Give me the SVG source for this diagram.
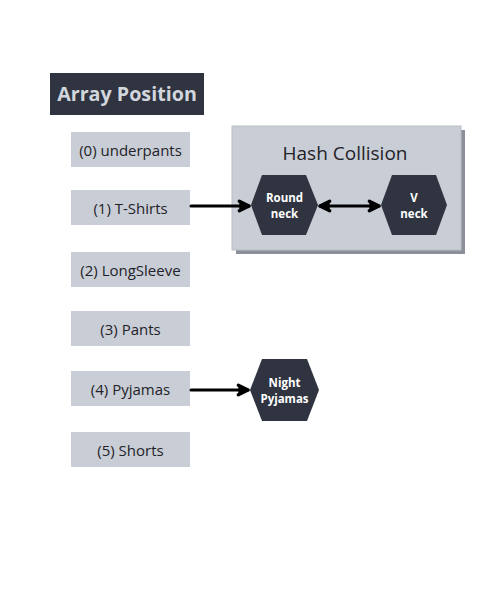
<svg xmlns="http://www.w3.org/2000/svg" width="500" height="600" viewBox="0 0 500 600">
<defs>
<style>
.slot{fill:#c9ced6}
.slotText{font-family:"Open Sans","Liberation Sans",sans-serif;font-size:15px;fill:#1f2228;text-anchor:middle}
.hex{fill:#2f3440}
.hexText{font-family:"Open Sans","Liberation Sans",sans-serif;font-size:11.5px;font-weight:bold;fill:#ffffff;text-anchor:middle}
.conn{stroke:#000;stroke-width:3;fill:none;stroke-linecap:round}
</style>
<marker id="ah" viewBox="0 0 10 10" refX="8.5" refY="5" markerWidth="4.6" markerHeight="4.6" orient="auto-start-reverse" markerUnits="strokeWidth">
<path d="M1.5,1.5 L8.5,5 L1.5,8.5" fill="#000" stroke="#000" stroke-width="2.4" stroke-linejoin="round" stroke-linecap="round"/>
</marker>
</defs>
<rect width="500" height="600" fill="#ffffff"/>
<g id="title">
<rect x="50" y="73" width="154" height="42" fill="#2f3440"/>
<text x="127" y="101" font-family="'Open Sans','Liberation Sans',sans-serif" font-size="19.7" font-weight="bold" fill="#d2d6dd" text-anchor="middle">Array Position</text>
</g>
<g id="slot0"><rect class="slot" x="71" y="132" width="119" height="35"/><text class="slotText" x="130.5" y="155.5">(0) underpants</text></g>
<g id="slot1"><rect class="slot" x="71" y="190" width="119" height="35"/><text class="slotText" x="130.5" y="213.5">(1) T-Shirts</text></g>
<g id="slot2"><rect class="slot" x="71" y="252" width="119" height="35"/><text class="slotText" x="130.5" y="275.5">(2) LongSleeve</text></g>
<g id="slot3"><rect class="slot" x="71" y="311" width="119" height="35"/><text class="slotText" x="130.5" y="334.5">(3) Pants</text></g>
<g id="slot4"><rect class="slot" x="71" y="371" width="119" height="35"/><text class="slotText" x="130.5" y="394.5">(4) Pyjamas</text></g>
<g id="slot5"><rect class="slot" x="71" y="432" width="119" height="35"/><text class="slotText" x="130.5" y="455.5">(5) Shorts</text></g>
<g id="hashCollision">
<rect x="236" y="130" width="229" height="124" fill="#8c9199"/>
<rect x="232" y="126" width="229" height="124" fill="#c9ced6" stroke="#b9bec6" stroke-width="1"/>
<text x="345" y="160" font-family="'Open Sans','Liberation Sans',sans-serif" font-size="19" fill="#1f2228" text-anchor="middle">Hash Collision</text>
</g>
<g id="roundNeck">
<polygon class="hex" points="251,205 262,175 306,175 318,205 306,235 262,235"/>
<text class="hexText" x="284.5" y="202">Round</text>
<text class="hexText" x="284.5" y="218">neck</text>
</g>
<g id="vNeck">
<polygon class="hex" points="381,205 392,175 436,175 447,205 436,235 392,235"/>
<text class="hexText" x="414" y="202">V</text>
<text class="hexText" x="414" y="218">neck</text>
</g>
<g id="nightPyjamas">
<polygon class="hex" points="250,390 262,359 307,359 319,390 307,421 262,421"/>
<text class="hexText" x="284.5" y="387">Night</text>
<text class="hexText" x="284.5" y="403">Pyjamas</text>
</g>
<g id="connectors">
<line class="conn" x1="191" y1="206" x2="249" y2="206" marker-end="url(#ah)"/>
<line class="conn" x1="320" y1="206" x2="379" y2="206" marker-start="url(#ah)" marker-end="url(#ah)"/>
<line class="conn" x1="191" y1="390" x2="248" y2="390" marker-end="url(#ah)"/>
</g>
</svg>
